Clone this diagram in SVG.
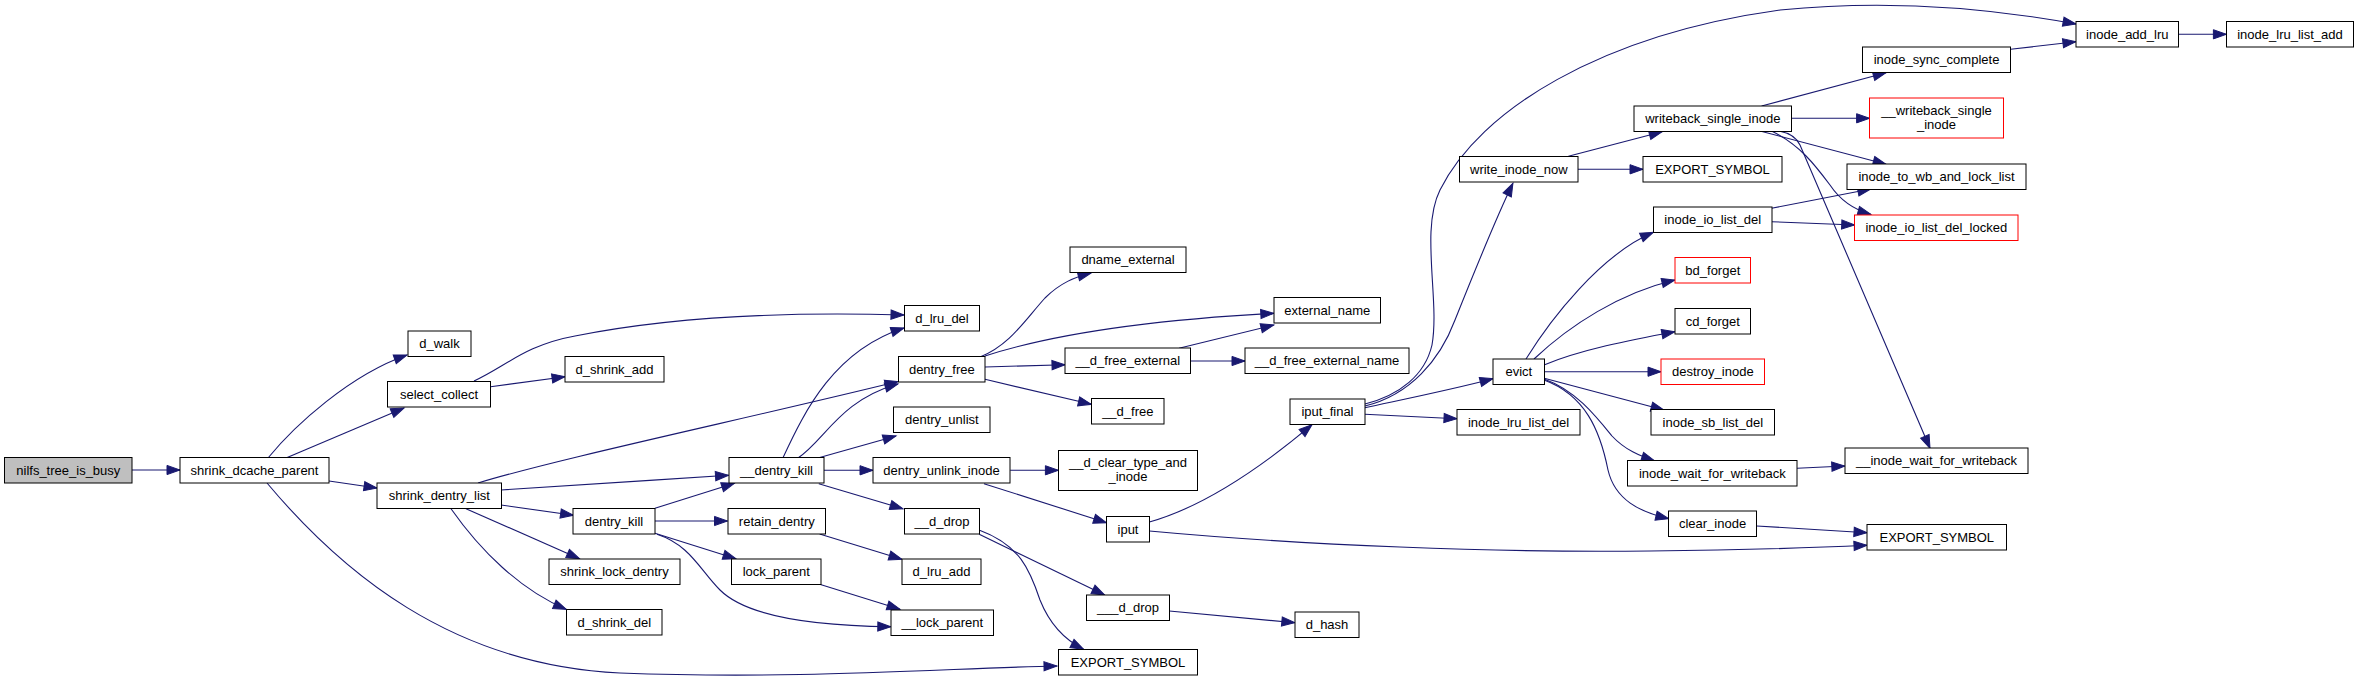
<svg xmlns="http://www.w3.org/2000/svg" width="2359" height="681" viewBox="0 0 2359 681">
<style>
.node rect{fill:#ffffff;stroke:#000000;stroke-width:1}
.node.root rect{fill:#bfbfbf}
.node.red rect{stroke:#ff0000}
.node text{font-family:"Liberation Sans",Arial,sans-serif;font-size:13px;fill:#000000;text-anchor:middle}
.edges path{fill:none;stroke:#191970;stroke-width:1.1;marker-end:url(#ah)}
</style>
<defs>
<marker id="ah" markerUnits="userSpaceOnUse" markerWidth="14" markerHeight="11" refX="13" refY="5" orient="auto" overflow="visible">
<path d="M0,0.4 L13,5 L0,9.6 z" fill="#191970" stroke="#191970" stroke-width="1"/>
</marker>
</defs>
<rect x="0" y="0" width="2359" height="681" fill="#ffffff"/>
<g class="edges" id="edges">
<path d="M132,470 L180,470"/>
<path d="M268,458 C295,425 350,375 407,355"/>
<path d="M286,458 L404,408"/>
<path d="M329,481 L377,488"/>
<path d="M267,483 C340,570 450,665 620,673 C800,680 950,668 1057,666"/>
<path d="M474,381 C505,367 525,345 575,336 C680,315 800,312 904,315"/>
<path d="M490.6,386.7 L565,376.7"/>
<path d="M478,483 C560,458 750,418 898,381.5"/>
<path d="M501,490 C600,484 650,480 728.5,475.3"/>
<path d="M501,505 L573.5,515.3"/>
<path d="M466,508.7 L579.5,558.7"/>
<path d="M451,508.7 C480,550 520,590 566.3,609.3"/>
<path d="M655,508.3 L734.5,483.3"/>
<path d="M655,521 L727.5,521"/>
<path d="M655,533.3 L736,558.7"/>
<path d="M657,534.3 C690,545 700,570 720,590 C750,620 830,626 890.8,626.7"/>
<path d="M783,457.7 C805,410 835,350 904,328"/>
<path d="M798,458 C825,440 840,400 898,384"/>
<path d="M818.8,457.7 L896,436"/>
<path d="M823.8,470.3 L873,470.3"/>
<path d="M818.8,483.7 L903,508.7"/>
<path d="M980,357 C1010,345 1025,320 1045,298 C1060,283 1075,277 1091,273"/>
<path d="M985,356 C1050,335 1150,320 1273.8,313.3"/>
<path d="M985,367 L1065,364.7"/>
<path d="M985,379.3 L1091.3,404.3"/>
<path d="M1179,348.3 L1273.8,325"/>
<path d="M1190.3,361 L1245,361"/>
<path d="M1010.2,470.3 L1058.4,470.3"/>
<path d="M984,483.7 L1106.5,522.7"/>
<path d="M1149.4,522 C1210,505 1270,460 1312,424.7"/>
<path d="M1149.4,531 C1300,545 1500,553 1650,551 C1750,550 1810,548 1867,545.3"/>
<path d="M979.2,534.3 L1104.7,595"/>
<path d="M979,530 C1020,545 1030,570 1040,600 C1050,625 1065,640 1083.6,649.3"/>
<path d="M819.6,534 L901.9,559.3"/>
<path d="M819.6,584.3 L900,609.3"/>
<path d="M1169.3,611 L1294.8,622.7"/>
<path d="M1365,404 C1400,395 1425,375 1432,345 C1440,300 1420,230 1440,190 C1480,110 1600,35 1780,10 C1900,-2 2000,10 2076,24"/>
<path d="M1365,406 C1410,395 1440,360 1455,320 C1475,270 1495,220 1512.9,183.3"/>
<path d="M1364.8,407.7 C1400,400 1450,390 1493,378.7"/>
<path d="M1364.8,414.3 L1457,418.7"/>
<path d="M1568.4,156.3 L1662.2,131.7"/>
<path d="M1578,169.3 L1643,169.3"/>
<path d="M1761.6,106 L1886.1,72.7"/>
<path d="M1791.3,118.3 L1869.6,118.3"/>
<path d="M1760,131 L1886.1,164.3"/>
<path d="M1771.5,131 C1800,145 1815,165 1830,185 C1840,200 1855,210 1870.8,214.3"/>
<path d="M1779,131 Q1795,134 1800,145 L1930,448.3"/>
<path d="M2010.6,49.3 L2075.9,41.7"/>
<path d="M2178.7,34.3 L2226.4,34.3"/>
<path d="M1771.5,208.3 L1870.8,189"/>
<path d="M1771.5,221.7 L1854.7,225"/>
<path d="M1526,359 C1550,320 1600,255 1653.3,232.3"/>
<path d="M1534,359 C1570,325 1620,293 1674.8,280"/>
<path d="M1544,365 C1580,350 1630,340 1674.8,331.7"/>
<path d="M1544.3,371.7 L1661,371.7"/>
<path d="M1544.3,378.3 L1664,410"/>
<path d="M1544,379 C1575,390 1595,415 1612,436 C1625,450 1640,456 1654.5,460.7"/>
<path d="M1544,380 C1585,395 1600,430 1608,470 C1615,500 1640,512 1668.7,518.7"/>
<path d="M1797.1,468.3 L1844.8,466"/>
<path d="M1756.7,526 L1867,532.7"/>
</g>
<g id="n_nilfs_tree_is_busy" class="node root"><rect x="4.5" y="457.5" width="127.5" height="25.5"/><text x="68.3" y="474.8">nilfs_tree_is_busy</text></g>
<g id="n_shrink_dcache_parent" class="node"><rect x="180" y="457.5" width="149" height="25.5"/><text x="254.5" y="474.8">shrink_dcache_parent</text></g>
<g id="n_d_walk" class="node"><rect x="408" y="331" width="63" height="25.5"/><text x="439.5" y="348.3">d_walk</text></g>
<g id="n_select_collect" class="node"><rect x="387.5" y="381.5" width="103" height="25.5"/><text x="439" y="398.8">select_collect</text></g>
<g id="n_d_shrink_add" class="node"><rect x="565" y="356.5" width="99" height="25.5"/><text x="614.5" y="373.8">d_shrink_add</text></g>
<g id="n_shrink_dentry_list" class="node"><rect x="377" y="483" width="124.5" height="25.5"/><text x="439.3" y="500.3">shrink_dentry_list</text></g>
<g id="n_dentry_kill" class="node"><rect x="573" y="508.5" width="82" height="25.5"/><text x="614" y="525.8">dentry_kill</text></g>
<g id="n_shrink_lock_dentry" class="node"><rect x="549" y="559" width="131" height="25.5"/><text x="614.5" y="576.3">shrink_lock_dentry</text></g>
<g id="n_d_shrink_del" class="node"><rect x="566.5" y="609.5" width="95.5" height="25.5"/><text x="614.3" y="626.8">d_shrink_del</text></g>
<g id="n_dentry_free" class="node"><rect x="898.5" y="356.5" width="86.5" height="25.5"/><text x="941.8" y="373.8">dentry_free</text></g>
<g id="n___d_free_external" class="node"><rect x="1065" y="348" width="125.5" height="25.5"/><text x="1127.8" y="365.3">__d_free_external</text></g>
<g id="n___d_free" class="node"><rect x="1091.5" y="398.5" width="72.5" height="25.5"/><text x="1127.8" y="415.8">__d_free</text></g>
<g id="n_dentry_unlist" class="node"><rect x="893.5" y="407" width="96.5" height="25.5"/><text x="941.8" y="424.3">dentry_unlist</text></g>
<g id="n___dentry_kill" class="node"><rect x="729" y="457.5" width="95" height="25.5"/><text x="776.5" y="474.8">__dentry_kill</text></g>
<g id="n_dentry_unlink_inode" class="node"><rect x="873" y="457.5" width="137" height="25.5"/><text x="941.5" y="474.8">dentry_unlink_inode</text></g>
<g id="n___d_clear_type_and_inode" class="node"><rect x="1058.5" y="450.5" width="139" height="40"/><text x="1128" y="467.2">__d_clear_type_and</text><text x="1128" y="480.5">_inode</text></g>
<g id="n_retain_dentry" class="node"><rect x="728" y="508.5" width="97.5" height="25.5"/><text x="776.8" y="525.8">retain_dentry</text></g>
<g id="n___d_drop" class="node"><rect x="904.5" y="508.5" width="75" height="25.5"/><text x="942" y="525.8">__d_drop</text></g>
<g id="n_iput" class="node"><rect x="1106.5" y="516.5" width="43" height="25.5"/><text x="1128" y="533.8">iput</text></g>
<g id="n_lock_parent" class="node"><rect x="731.5" y="559" width="89.5" height="25.5"/><text x="776.3" y="576.3">lock_parent</text></g>
<g id="n_d_lru_add" class="node"><rect x="902" y="559" width="79" height="25.5"/><text x="941.5" y="576.3">d_lru_add</text></g>
<g id="n____d_drop" class="node"><rect x="1086.5" y="595" width="83" height="25.5"/><text x="1128" y="612.3">___d_drop</text></g>
<g id="n___lock_parent" class="node"><rect x="891" y="610" width="102.5" height="25.5"/><text x="942.3" y="627.3">__lock_parent</text></g>
<g id="n_EXPORT_SYMBOL_1" class="node"><rect x="1058.5" y="649.5" width="139" height="25.5"/><text x="1128" y="666.8">EXPORT_SYMBOL</text></g>
<g id="n_d_lru_del" class="node"><rect x="904.5" y="305.5" width="75" height="25.5"/><text x="942" y="322.8">d_lru_del</text></g>
<g id="n_dname_external" class="node"><rect x="1070" y="247" width="116" height="25.5"/><text x="1128" y="264.3">dname_external</text></g>
<g id="n_external_name" class="node"><rect x="1274" y="297.5" width="106.5" height="25.5"/><text x="1327.3" y="314.8">external_name</text></g>
<g id="n_write_inode_now" class="node"><rect x="1459.5" y="156.5" width="118.5" height="25.5"/><text x="1518.8" y="173.8">write_inode_now</text></g>
<g id="n_writeback_single_inode" class="node"><rect x="1634" y="106" width="157.5" height="25.5"/><text x="1712.8" y="123.3">writeback_single_inode</text></g>
<g id="n_EXPORT_SYMBOL_2" class="node"><rect x="1643" y="156.5" width="139" height="25.5"/><text x="1712.5" y="173.8">EXPORT_SYMBOL</text></g>
<g id="n_inode_io_list_del" class="node"><rect x="1653.5" y="207" width="118.5" height="25.5"/><text x="1712.8" y="224.3">inode_io_list_del</text></g>
<g id="n_bd_forget" class="node red"><rect x="1675" y="257.5" width="75.5" height="25.5"/><text x="1712.8" y="274.8">bd_forget</text></g>
<g id="n_cd_forget" class="node"><rect x="1675" y="308.5" width="75.5" height="25.5"/><text x="1712.8" y="325.8">cd_forget</text></g>
<g id="n___d_free_external_name" class="node"><rect x="1245" y="348" width="164" height="25.5"/><text x="1327" y="365.3">__d_free_external_name</text></g>
<g id="n_evict" class="node"><rect x="1493" y="359" width="51.5" height="25.5"/><text x="1518.8" y="376.3">evict</text></g>
<g id="n_destroy_inode" class="node red"><rect x="1661" y="359" width="103.5" height="25.5"/><text x="1712.8" y="376.3">destroy_inode</text></g>
<g id="n_iput_final" class="node"><rect x="1290" y="399" width="75" height="25.5"/><text x="1327.5" y="416.3">iput_final</text></g>
<g id="n_inode_lru_list_del" class="node"><rect x="1457" y="409.5" width="123" height="25.5"/><text x="1518.5" y="426.8">inode_lru_list_del</text></g>
<g id="n_inode_sb_list_del" class="node"><rect x="1651" y="409.5" width="123.5" height="25.5"/><text x="1712.8" y="426.8">inode_sb_list_del</text></g>
<g id="n_inode_wait_for_writeback" class="node"><rect x="1627.5" y="460.5" width="169.5" height="25.5"/><text x="1712.3" y="477.8">inode_wait_for_writeback</text></g>
<g id="n_clear_inode" class="node"><rect x="1668.5" y="511" width="88" height="25.5"/><text x="1712.5" y="528.3">clear_inode</text></g>
<g id="n_d_hash" class="node"><rect x="1295" y="612" width="64" height="25.5"/><text x="1327" y="629.3">d_hash</text></g>
<g id="n_inode_add_lru" class="node"><rect x="2076" y="21.5" width="102.5" height="25.5"/><text x="2127.3" y="38.8">inode_add_lru</text></g>
<g id="n_inode_lru_list_add" class="node"><rect x="2226.5" y="21.5" width="127" height="25.5"/><text x="2290" y="38.8">inode_lru_list_add</text></g>
<g id="n_inode_sync_complete" class="node"><rect x="1862.5" y="47" width="148" height="25.5"/><text x="1936.5" y="64.3">inode_sync_complete</text></g>
<g id="n___writeback_single_inode" class="node red"><rect x="1869.5" y="98" width="134" height="40"/><text x="1936.5" y="115.2">__writeback_single</text><text x="1936.5" y="129.2">_inode</text></g>
<g id="n_inode_to_wb_and_lock_list" class="node"><rect x="1847" y="164" width="179" height="25.5"/><text x="1936.5" y="181.3">inode_to_wb_and_lock_list</text></g>
<g id="n_inode_io_list_del_locked" class="node red"><rect x="1854.5" y="215" width="163.5" height="25.5"/><text x="1936.3" y="232.3">inode_io_list_del_locked</text></g>
<g id="n___inode_wait_for_writeback" class="node"><rect x="1845" y="448" width="183" height="25.5"/><text x="1936.5" y="465.3">__inode_wait_for_writeback</text></g>
<g id="n_EXPORT_SYMBOL_3" class="node"><rect x="1867" y="524.5" width="139.5" height="25.5"/><text x="1936.8" y="541.8">EXPORT_SYMBOL</text></g>
</svg>
